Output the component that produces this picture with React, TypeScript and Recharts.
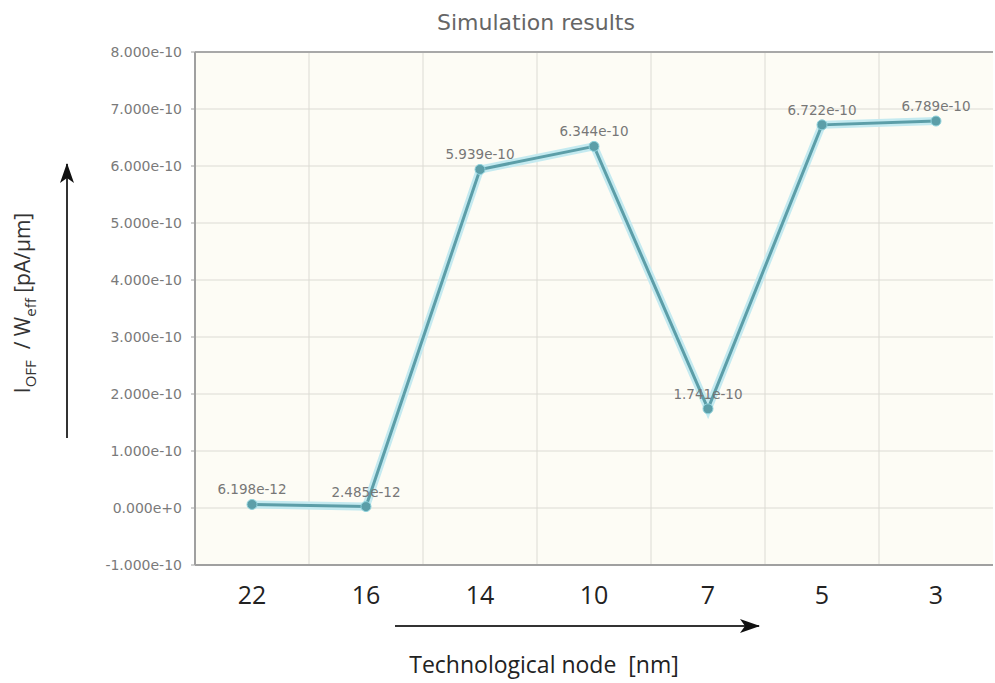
import {
  LineChart, Line, XAxis, YAxis, CartesianGrid, ReferenceLine, LabelList,
} from "recharts";

// technology nodes, left to right
const nodes = ["22", "16", "14", "10", "7", "5", "3"];
// off-state leakage per effective width
const ioffValues = [6.198e-12, 2.485e-12, 5.939e-10, 6.344e-10, 1.741e-10, 6.722e-10, 6.789e-10];
const yTicks = [-1e-10, 0, 1e-10, 2e-10, 3e-10, 4e-10, 5e-10, 6e-10, 7e-10, 8e-10];
const xTicks = [0, 1, 2, 3, 4, 5, 6];
const cellBounds = [0.5, 1.5, 2.5, 3.5, 4.5, 5.5];

const W = 995;
const H = 683;

const data = nodes.map((n, i) => ({ idx: i, node: n, ioff: ioffValues[i] }));

const fmt = (v: number) => Number(v).toExponential(3);

export default function App() {
  return (
    <div style={{ position: "absolute", left: 0, top: 0, width: W, height: H, background: "#fff" }}>
      <LineChart
        width={W}
        height={H}
        data={data}
        margin={{ top: 52, right: 2, left: 0, bottom: 0 }}
      >
        <CartesianGrid vertical={false} stroke="#dcdbd4" fill="#fdfcf5" />
        {cellBounds.map((b) => (
          <ReferenceLine key={b} x={b} stroke="#dcdbd4" />
        ))}
        <ReferenceLine y={8e-10} stroke="#a8a8a8" strokeWidth={2} />
        <XAxis
          dataKey="idx"
          type="number"
          domain={[-0.5, 6.5]}
          ticks={xTicks}
          tickFormatter={(v) => nodes[v] ?? ""}
          height={118}
          axisLine={{ stroke: "#a0a0a0", strokeWidth: 2 }}
          tickLine={false}
          tickMargin={15}
          tick={{ fill: "#222", fontSize: 25, fontFamily: "Open Sans" }}
        />
        <YAxis
          type="number"
          domain={[-1e-10, 8e-10]}
          ticks={yTicks}
          width={195}
          tickFormatter={fmt}
          axisLine={{ stroke: "#a0a0a0", strokeWidth: 2 }}
          tickLine={{ stroke: "#a0a0a0" }}
          tickSize={4}
          tickMargin={9}
          tick={{ fill: "#7a7a7a", fontSize: 14, fontFamily: "DejaVu Sans" }}
        />
        <Line
          dataKey="ioff"
          stroke="#c4eaf0"
          strokeWidth={8}
          dot={false}
          activeDot={false}
          isAnimationActive={false}
        />
        <Line
          dataKey="ioff"
          stroke="#5c9ea8"
          strokeWidth={3}
          dot={{ r: 5, fill: "#5c9ea8", stroke: "#8fd2dc", strokeWidth: 1 }}
          isAnimationActive={false}
        >
          <LabelList
            dataKey="ioff"
            position="top"
            offset={10}
            formatter={(v: any) => fmt(v)}
            style={{ fill: "#777", fontSize: 13.5, fontFamily: "DejaVu Sans" }}
          />
        </Line>
      </LineChart>

      {/* title, axis titles and direction arrows */}
      <svg
        width={W}
        height={H}
        style={{ position: "absolute", left: 0, top: 0, pointerEvents: "none" }}
      >
        <defs>
          <marker id="head" viewBox="0 0 20 14" refX="19" refY="7" markerWidth="20" markerHeight="14" markerUnits="userSpaceOnUse" orient="auto">
            <path d="M0,0 L20,7 L0,14 L5,7 Z" fill="#111" />
          </marker>
        </defs>
        <text x={536} y={30} textAnchor="middle" fill="#666" fontSize={22} fontFamily="DejaVu Sans">
          Simulation results
        </text>
        <text
          transform="translate(30,303) rotate(-90)"
          textAnchor="middle"
          fill="#333"
          fontSize={21}
          fontFamily="Open Sans"
          xmlSpace="preserve"
        >
          <tspan>I</tspan>
          <tspan fontSize={15} dy={6}>OFF</tspan>
          <tspan dy={-6}>{"  / W"}</tspan>
          <tspan fontSize={15} dy={6}>eff</tspan>
          <tspan dy={-6}>{" [pA/μm]"}</tspan>
        </text>
        <line x1={67} y1={438} x2={67} y2={164} stroke="#333" strokeWidth={2} markerEnd="url(#head)" />
        <line x1={395} y1={626} x2={759} y2={626} stroke="#333" strokeWidth={2} markerEnd="url(#head)" />
        <text x={544} y={673} textAnchor="middle" fill="#222" fontSize={23} fontFamily="Open Sans" xmlSpace="preserve">
          Technological node  [nm]
        </text>
      </svg>
    </div>
  );
}
